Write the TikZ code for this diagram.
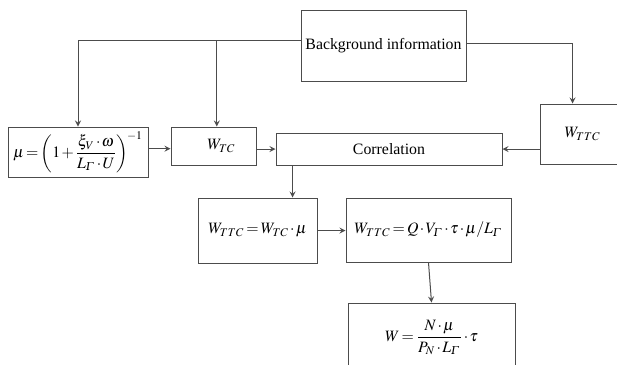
\documentclass[tikz,border=0pt]{standalone}
\usepackage{mathptmx}
\usepackage{fontspec}
\setmainfont{Liberation Serif}
\DeclareMathSymbol{\itGamma}{\mathord}{letters}{"00}
\newcommand{\tightmath}{\medmuskip=1.5mu\relax\thickmuskip=2.5mu\relax}
\begin{document}
\begin{tikzpicture}[x=0.6pt, y=-0.6pt, >=stealth,
  box/.style={draw=black!70, line width=0.6pt, inner sep=0pt,
    font=\fontsize{9.5}{11}\selectfont\tightmath},
  link/.style={->, draw=black!70, line width=0.6pt}]
  \clip (0,0) rectangle (617,364);
  \node[box, minimum width=99pt, minimum height=42.6pt] (bg) at (383.5,45.5) {Background information};
  \node[box, minimum width=84pt, minimum height=30pt] (mu) at (78,152)
    {$\displaystyle\mu=\left(1+\frac{\xi_{V}\cdot\omega}{L_{\itGamma}\cdot U}\right)^{\!-1}$};
  \node[box, minimum width=51pt, minimum height=22.8pt] (wtc) at (213.5,146) {\quad$W_{TC}$};
  \node[box, minimum width=135.6pt, minimum height=19.2pt] (corr) at (389,149) {Correlation};
  \node[box, minimum width=51pt, minimum height=36pt] (wttc) at (582.5,134) {$W_{TTC}$\hspace{6pt}};
  \node[box, minimum width=71.4pt, minimum height=39pt] (eqa) at (257.5,230.5) {$W_{TTC}=W_{TC}\cdot\mu$};
  \node[box, minimum width=99pt, minimum height=38.4pt] (eqb) at (428.5,230) {$W_{TTC}=Q\cdot V_{\itGamma}\cdot\tau\cdot\mu/L_{\itGamma}$};
  \node[box, minimum width=100.2pt, minimum height=41.4pt] (eqc) at (431.5,337.5) {$\displaystyle W=\frac{N\cdot\mu}{P_{N}\cdot L_{\itGamma}}\cdot\tau$};
  % feeds from the background box
  \draw[link] ([yshift=3pt]bg.west) -| (mu.north);
  \draw[link] ([yshift=3pt]bg.west) -| ([xshift=2pt]wtc.north);
  \draw[link] ([yshift=1.5pt]bg.east) -| ([xshift=19.8pt]wttc.north west);
  % into the correlation
  \draw[link] ([yshift=2pt]mu.east) -- ([yshift=2pt]mu.east -| wtc.west);
  \draw[link] (corr.west -| wtc.east) -- (corr.west);
  \draw[link] (corr.east -| wttc.west) -- (corr.east);
  % down to the results
  \draw[link] ([xshift=10.2pt]corr.south west) -- ([xshift=10.2pt]corr.south west |- eqa.north);
  \draw[link] (eqa.east) -- (eqa.east -| eqb.west);
  \draw[link] (eqb.south) -- (eqc.north);
\end{tikzpicture}
\end{document}
